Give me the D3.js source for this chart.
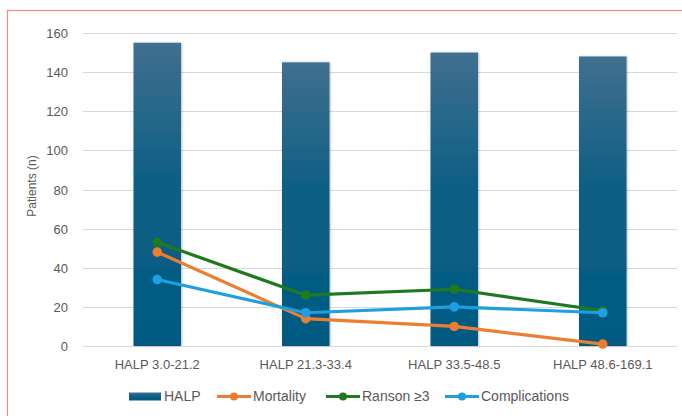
<!DOCTYPE html>
<html><head><meta charset="utf-8">
<script src="https://cdn.jsdelivr.net/npm/d3@7"></script>
<style>
html,body{margin:0;padding:0;background:#fff;}
svg{display:block;font-family:"Liberation Sans",Arial,sans-serif;}
</style></head>
<body>
<svg id="c" width="682" height="416"></svg>
<script>
const categories = ["HALP 3.0-21.2","HALP 21.3-33.4","HALP 33.5-48.5","HALP 48.6-169.1"];
const halp = [155,145,150,148];
const mortality = [48,14,10,1];
const ranson = [53,26,29,18];
const complications = [34,17,20,17];
const yTicks = [0,20,40,60,80,100,120,140,160];
const lineSeries = [
  {name:"Mortality", values:mortality, color:"#ed7d31"},
  {name:"Ranson ≥3", values:ranson, color:"#1f7a1f"},
  {name:"Complications", values:complications, color:"#1e9fe0"}
];

const svg = d3.select("#c");
// outer border
svg.append("rect").attr("x",7.5).attr("y",10.5).attr("width",700).attr("height",420)
  .attr("fill","none").attr("stroke","#f08a8a").attr("stroke-width",1.2);

const m = {l:83, r:677, t:33, b:346};
const x = d3.scaleBand().domain(categories).range([m.l,m.r]).paddingInner(0.68).paddingOuter(0.34);
const y = d3.scaleLinear().domain([0,160]).range([m.b,m.t]);

const defs = svg.append("defs");
const g = defs.append("linearGradient").attr("id","bg").attr("x1",0).attr("y1",0).attr("x2",0).attr("y2",1);
g.append("stop").attr("offset","0%").attr("stop-color","#416f8f");
g.append("stop").attr("offset","45%").attr("stop-color","#0e5f85");
g.append("stop").attr("offset","100%").attr("stop-color","#005a82");
const f = defs.append("filter").attr("id","sh").attr("x","-20%").attr("y","-5%").attr("width","140%").attr("height","110%");
f.append("feDropShadow").attr("dx",1).attr("dy",0).attr("stdDeviation",1).attr("flood-color","#000").attr("flood-opacity",0.25);

// grid
svg.append("g").selectAll("line").data(yTicks).join("line")
  .attr("x1",m.l).attr("x2",m.r).attr("y1",d=>Math.round(y(d))+0.5).attr("y2",d=>Math.round(y(d))+0.5)
  .attr("stroke","#d9d9d9").attr("stroke-width",1);

// y axis labels
const yAxis = d3.axisLeft(y).tickValues(yTicks).tickSize(0).tickPadding(0);
const ya = svg.append("g").attr("transform",`translate(68,0)`).call(yAxis);
ya.select(".domain").remove();
ya.selectAll("text").attr("fill","#595959").attr("font-size",13).attr("font-family","Liberation Sans, Arial, sans-serif").attr("dy","0.35em");

svg.append("text").attr("transform","translate(36,186) rotate(-90)").attr("text-anchor","middle")
  .attr("fill","#595959").attr("font-size",12).text("Patients (n)");

// bars
svg.append("g").selectAll("rect").data(halp).join("rect")
  .attr("x",(d,i)=>x(categories[i])).attr("width",x.bandwidth())
  .attr("y",d=>y(d)).attr("height",d=>y(0)-y(d))
  .attr("fill","url(#bg)").attr("filter","url(#sh)");

// x axis labels
const xAxis = d3.axisBottom(x).tickSize(0).tickPadding(0);
const xa = svg.append("g").attr("transform",`translate(0,${m.b+14})`).call(xAxis);
xa.select(".domain").remove();
xa.selectAll("text").attr("fill","#595959").attr("font-size",13).attr("font-family","Liberation Sans, Arial, sans-serif").attr("dy","0.71em");

// lines
const cx = c => x(c)+x.bandwidth()/2;
const line = d3.line().x((d,i)=>cx(categories[i])).y(d=>y(d));
lineSeries.forEach(s=>{
  svg.append("path").datum(s.values).attr("d",line).attr("fill","none")
    .attr("stroke",s.color).attr("stroke-width",3.2).attr("stroke-linejoin","round");
  svg.append("g").selectAll("circle").data(s.values).join("circle")
    .attr("cx",(d,i)=>cx(categories[i])).attr("cy",d=>y(d)).attr("r",4.8).attr("fill",s.color);
});

// legend
const ly = 396.5;
const lg = svg.append("g");
lg.append("rect").attr("x",129).attr("y",392.5).attr("width",32).attr("height",8).attr("fill","url(#bg)");
lg.append("text").attr("x",164).attr("y",ly).attr("dy","0.35em").attr("font-size",14).attr("fill","#595959").text("HALP");
const legItems = [{x:217, tx:253},{x:326, tx:362},{x:445, tx:481}];
lineSeries.forEach((s,i)=>{
  const it = legItems[i];
  lg.append("line").attr("x1",it.x).attr("x2",it.x+34).attr("y1",ly).attr("y2",ly).attr("stroke",s.color).attr("stroke-width",3.2);
  lg.append("circle").attr("cx",it.x+17).attr("cy",ly).attr("r",4).attr("fill",s.color);
  lg.append("text").attr("x",it.tx).attr("y",ly).attr("dy","0.35em").attr("font-size",14).attr("fill","#595959").text(s.name);
});
</script>
</body></html>
